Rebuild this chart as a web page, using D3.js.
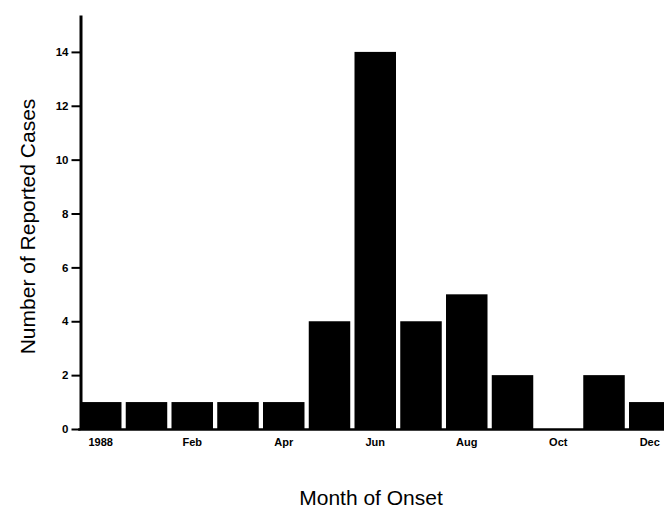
<!DOCTYPE html>
<html>
<head>
<meta charset="utf-8">
<script src="https://cdn.jsdelivr.net/npm/d3@7"></script>
<style>
  html, body { margin: 0; padding: 0; background: #fff; }
  svg { display: block; font-family: "Liberation Sans", Arial, Helvetica, sans-serif; }
</style>
</head>
<body>
<svg id="chart" width="664" height="509"></svg>
<script>
// Reported cases by month of onset
const slots = ["1988", "Jan", "Feb", "Mar", "Apr", "May", "Jun", "Jul", "Aug", "Sep", "Oct", "Nov", "Dec"];
const cases = [1, 1, 1, 1, 1, 4, 14, 4, 5, 2, 0, 2, 1];
const shownLabels = ["1988", "Feb", "Apr", "Jun", "Aug", "Oct", "Dec"];
const yTicks = [0, 2, 4, 6, 8, 10, 12, 14];

const svg = d3.select("#chart");

const x = d3.scaleBand()
  .domain(slots)
  .range([77.7, 672.8])
  .paddingInner(0.093)
  .paddingOuter(0.05);

const y = d3.scaleLinear()
  .domain([0, 15.37])
  .range([429, 15]);

// Bars
svg.append("g")
  .selectAll("rect")
  .data(slots.map((s, i) => ({ s, v: cases[i] })))
  .join("rect")
  .attr("x", d => x(d.s))
  .attr("width", x.bandwidth())
  .attr("y", d => y(d.v))
  .attr("height", d => y(0) - y(d.v))
  .attr("fill", "#000");

// X axis (baseline + every other month label)
const xAxis = svg.append("g")
  .attr("transform", `translate(0,${y(0)})`)
  .call(d3.axisBottom(x)
    .tickSizeInner(0)
    .tickSizeOuter(0)
    .tickPadding(9)
    .tickValues(shownLabels));
xAxis.select(".domain").attr("stroke", "#000").attr("stroke-width", 2.5);
xAxis.selectAll("text")
  .attr("font-family", "Liberation Sans, Arial, sans-serif")
  .attr("font-size", 11)
  .attr("font-weight", "bold")
  .attr("fill", "#000");

// Y axis
const yAxis = svg.append("g")
  .attr("transform", "translate(80.5,0)")
  .call(d3.axisLeft(y)
    .tickValues(yTicks)
    .tickSizeInner(9)
    .tickSizeOuter(0)
    .tickPadding(3)
    .tickFormat(d3.format("d")));
yAxis.select(".domain").attr("stroke", "#000").attr("stroke-width", 3);
yAxis.selectAll(".tick line").attr("stroke", "#000").attr("stroke-width", 2);
yAxis.selectAll("text")
  .attr("font-family", "Liberation Sans, Arial, sans-serif")
  .attr("font-size", 11.5)
  .attr("font-weight", "bold")
  .attr("fill", "#000");

// Axis titles
svg.append("text")
  .attr("transform", "translate(35,226.5) rotate(-90)")
  .attr("text-anchor", "middle")
  .attr("font-size", 21)
  .attr("fill", "#000")
  .text("Number of Reported Cases");

svg.append("text")
  .attr("x", 371)
  .attr("y", 505)
  .attr("text-anchor", "middle")
  .attr("font-size", 21)
  .attr("fill", "#000")
  .text("Month of Onset");
</script>
</body>
</html>
